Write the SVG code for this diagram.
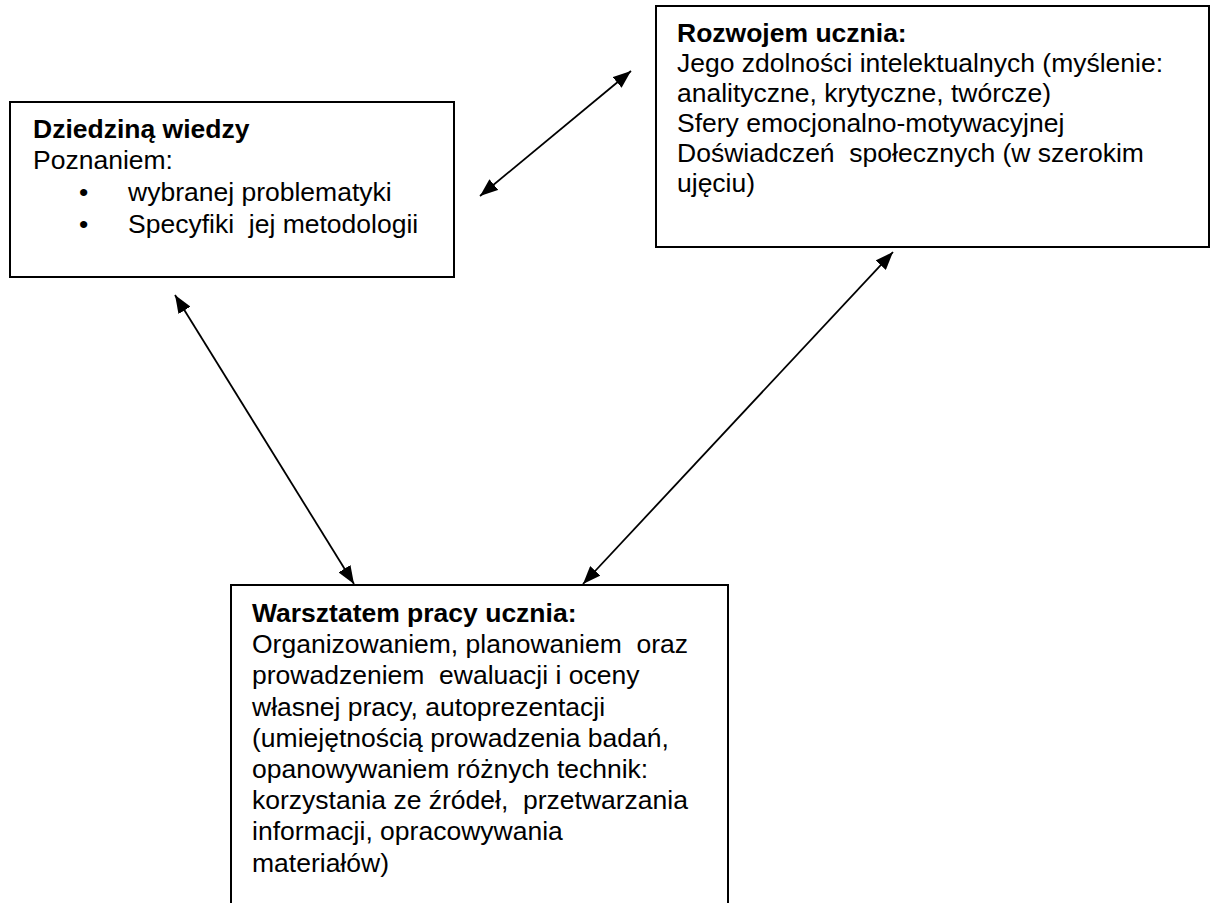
<svg xmlns="http://www.w3.org/2000/svg" width="1212" height="903" viewBox="0 0 1212 903">
<style>
.box{fill:#fff;stroke:#000;stroke-width:2}
text{font-family:"Liberation Sans",Arial,sans-serif;font-size:26.5px;fill:#000;white-space:pre}
.b{font-weight:bold}
.conn{stroke:#000;stroke-width:1.8;fill:none;marker-start:url(#ah);marker-end:url(#ah)}
</style>
<defs>
<marker id="ah" markerUnits="userSpaceOnUse" markerWidth="18" markerHeight="14" refX="18" refY="7" orient="auto-start-reverse">
<path d="M0,0 L18,7 L0,14 z" fill="#000"/>
</marker>
</defs>
<rect width="1212" height="903" fill="#fff"/>
<g id="node-dziedzina">
<rect class="box" x="10" y="102" width="444" height="175"/>
<text xml:space="preserve"><tspan class="b" x="33" y="138">Dziedziną wiedzy</tspan><tspan x="33" y="169">Poznaniem:</tspan><tspan x="79" y="201">•</tspan><tspan x="128" y="201">wybranej problematyki</tspan><tspan x="79" y="233">•</tspan><tspan x="128" y="233">Specyfiki  jej metodologii</tspan></text>
</g>
<g id="node-rozwoj">
<rect class="box" x="656" y="6" width="553" height="241"/>
<text xml:space="preserve"><tspan class="b" x="677" y="42">Rozwojem ucznia:</tspan><tspan x="677" y="72">Jego zdolności intelektualnych (myślenie:</tspan><tspan x="677" y="102">analityczne, krytyczne, twórcze)</tspan><tspan x="677" y="132">Sfery emocjonalno-motywacyjnej</tspan><tspan x="677" y="162">Doświadczeń  społecznych (w szerokim</tspan><tspan x="677" y="192">ujęciu)</tspan></text>
</g>
<g id="node-warsztat">
<rect class="box" x="231" y="585" width="497" height="330"/>
<text xml:space="preserve"><tspan class="b" x="252" y="622">Warsztatem pracy ucznia:</tspan><tspan x="252" y="653">Organizowaniem, planowaniem  oraz</tspan><tspan x="252" y="684">prowadzeniem  ewaluacji i oceny</tspan><tspan x="252" y="716">własnej pracy, autoprezentacji</tspan><tspan x="252" y="747">(umiejętnością prowadzenia badań,</tspan><tspan x="252" y="778">opanowywaniem różnych technik:</tspan><tspan x="252" y="809">korzystania ze źródeł,  przetwarzania</tspan><tspan x="252" y="840">informacji, opracowywania</tspan><tspan x="252" y="872">materiałów)</tspan></text>
</g>
<g id="connectors">
<line class="conn" x1="480" y1="196" x2="631" y2="71"/>
<line class="conn" x1="175" y1="295" x2="354" y2="584"/>
<line class="conn" x1="893" y1="252" x2="583" y2="584"/>
</g>
</svg>
